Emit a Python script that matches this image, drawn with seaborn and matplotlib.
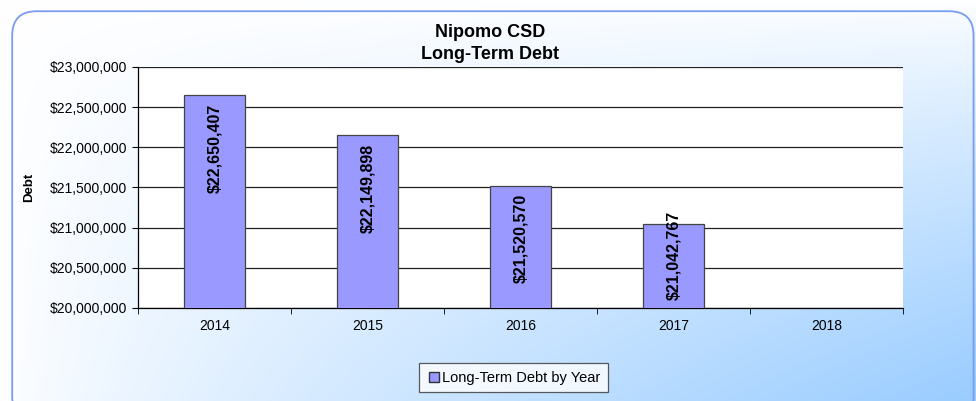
import numpy as np
import pandas as pd
import matplotlib
matplotlib.use("Agg")
import matplotlib.pyplot as plt
import matplotlib.transforms as mtransforms
import seaborn as sns
from matplotlib.patches import FancyBboxPatch
from matplotlib.ticker import FuncFormatter, FixedLocator
from matplotlib.lines import Line2D

# Data
years = ["2014", "2015", "2016", "2017", "2018"]
debt_years = ["2014", "2015", "2016", "2017"]
debt = [22650407, 22149898, 21520570, 21042767]

df = pd.DataFrame({"year": debt_years, "debt": debt})

sns.set_style("white")
plt.rcParams["font.family"] = ["Liberation Sans", "DejaVu Sans"]
plt.rcParams["text.color"] = "black"
plt.rcParams["xtick.color"] = "black"
plt.rcParams["ytick.color"] = "black"
plt.rcParams["axes.labelcolor"] = "black"

fig = plt.figure(figsize=(9.76, 4.01), dpi=100)

# Gradient background (white top-left -> light blue bottom-right)
bg = fig.add_axes([0, 0, 1, 1], zorder=-10)
h, w = 401, 976
yy, xx = np.mgrid[0:h, 0:w]
t = np.clip((xx / w) * (yy / h), 0, 1) ** 0.8
c0 = np.array([1.0, 1.0, 1.0])
c1 = np.array([0x99, 0xCC, 0xFF]) / 255
img = c0[None, None, :] * (1 - t[..., None]) + c1[None, None, :] * t[..., None]
bg.imshow(img, aspect="auto", extent=[0, 1, 0, 1], origin="upper")
bg.set_xlim(0, 1)
bg.set_ylim(0, 1)
bg.axis("off")

# Rounded border
border = FancyBboxPatch((0.0125, -0.05), 0.985, 1.022, boxstyle="round,pad=0,rounding_size=0.025",
                        transform=fig.transFigure, fill=False, edgecolor="#7A9CF0",
                        linewidth=1.3, mutation_aspect=976 / 401, zorder=-5)
fig.patches.append(border)

ax = fig.add_axes([0.1414, 0.232, 0.7838, 0.601])
ax.set_facecolor("white")

sns.barplot(data=df, x="year", y="debt", order=years, color="#9999FF",
            edgecolor="#444444", linewidth=0.9, width=0.4, saturation=1, ax=ax, zorder=3)

ymin, ymax = 20000000, 23000000
ax.set_ylim(ymin, ymax)
ax.set_xlim(-0.5, 4.5)
ax.set_yticks(np.arange(ymin, ymax + 1, 500000))
ax.yaxis.set_major_formatter(FuncFormatter(lambda v, p: f"${v:,.0f}"))
ax.grid(axis="y", color="#222222", linewidth=0.9, zorder=0)
ax.set_axisbelow(True)

for s in ["top", "right"]:
    ax.spines[s].set_visible(False)
for s in ["left", "bottom"]:
    ax.spines[s].set_color("black")
    ax.spines[s].set_linewidth(0.9)

ax.tick_params(axis="y", length=4, direction="out", left=True, labelsize=10, pad=4)
ax.tick_params(axis="x", which="major", length=0, labelsize=10, pad=8)
ax.xaxis.set_minor_locator(FixedLocator(np.arange(-0.5, 4.6, 1)))
ax.tick_params(axis="x", which="minor", length=4, direction="out", bottom=True)

ax.set_xlabel("")
ax.set_ylabel("Debt", fontsize=9.5, fontweight="bold", labelpad=10)

# Value labels rotated inside bars; short bars get the label pinned to the base
down = mtransforms.offset_copy(ax.transData, fig=fig, x=0, y=-6, units="points")
up = mtransforms.offset_copy(ax.transData, fig=fig, x=0, y=6, units="points")
for i, v in enumerate(debt):
    label = f"${v:,.0f}"
    if v - ymin > 1200000:
        ax.text(i, v, label, transform=down, rotation=90, ha="center", va="top",
                fontsize=11.5, fontweight="bold", zorder=5)
    else:
        ax.text(i, ymin, label, transform=up, rotation=90, ha="center", va="bottom",
                fontsize=11.5, fontweight="bold", zorder=5)

fig.text(0.502, 0.92, "Nipomo CSD", ha="center", va="center", fontsize=13, fontweight="bold")
fig.text(0.502, 0.865, "Long-Term Debt", ha="center", va="center", fontsize=13, fontweight="bold")

handle = Line2D([], [], marker="s", linestyle="none", markersize=6.5,
                markerfacecolor="#9999FF", markeredgecolor="#333333")
fig.legend([handle], ["Long-Term Debt by Year"], loc="center", bbox_to_anchor=(0.526, 0.058),
           frameon=True, fancybox=False, edgecolor="#333333", fontsize=10.5,
           handletextpad=0.1, borderpad=0.5, handlelength=1.0)
fig.legends[0].get_frame().set_linewidth(0.9)

fig.savefig("out.png", dpi=100)
